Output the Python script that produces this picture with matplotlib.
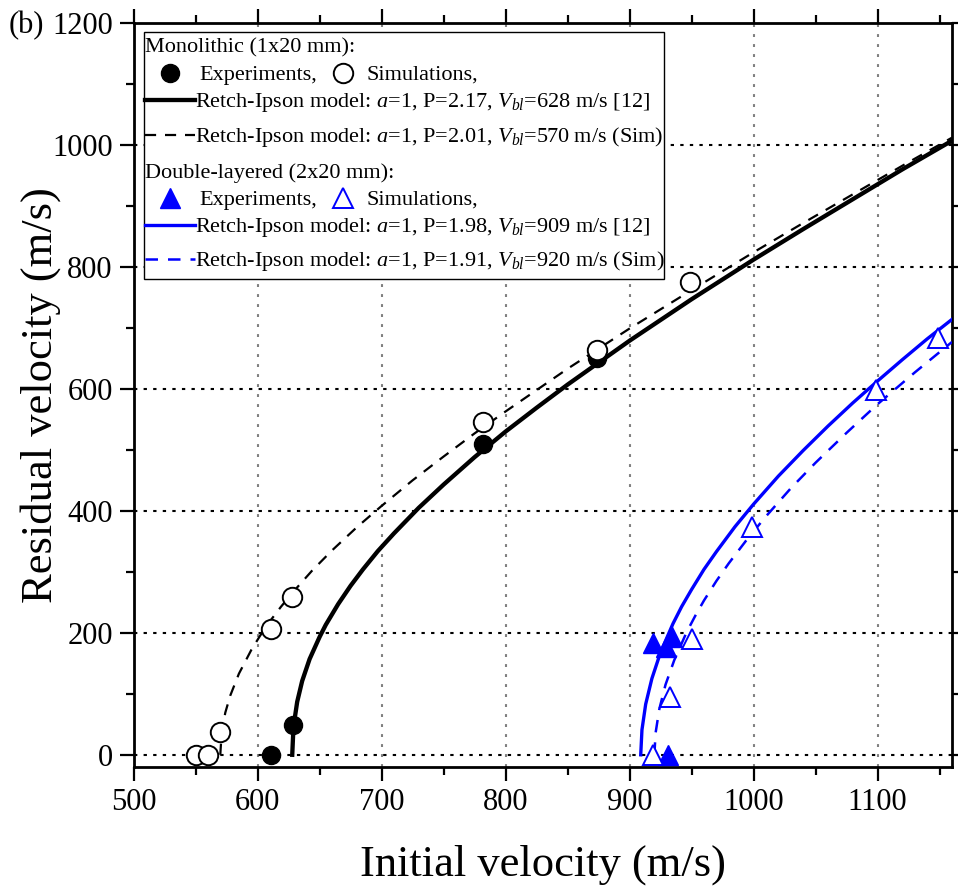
import matplotlib
matplotlib.use('Agg')
import matplotlib.pyplot as plt
from matplotlib.lines import Line2D
from matplotlib.patches import Rectangle
from matplotlib.ticker import MultipleLocator

plt.rcParams['font.family'] = ['Liberation Serif', 'DejaVu Serif']
plt.rcParams['mathtext.fontset'] = 'custom'
plt.rcParams['mathtext.rm'] = 'Liberation Serif'
plt.rcParams['mathtext.it'] = 'Liberation Serif:italic'

# Monolithic (1x20 mm)
mono_exp_vi = [611, 629, 782, 874]
mono_exp_vr = [0, 49, 510, 650]
mono_sim_vi = [550, 560, 570, 611, 628, 782, 874, 949]
mono_sim_vr = [0, 0, 38, 207, 259, 546, 663, 776]

# Double-layered (2x20 mm)
dbl_exp_vi = [919, 929, 934, 931]
dbl_exp_vr = [183, 176, 193, 0]
dbl_sim_vi = [919, 933, 950, 999, 1099, 1149]
dbl_sim_vr = [0, 94, 190, 374, 598, 683]

# Recht-Ipson curves
mono_fit_vi = [628, 629, 632, 636, 642, 650, 655, 665, 675, 685, 697, 710, 730, 750, 775,
               800, 825, 850, 900, 950, 1000, 1040, 1080, 1120, 1160]
mono_fit_vr = [0, 46, 87, 121, 157, 193, 213, 247, 277, 304, 334, 363, 405, 443, 488,
               530, 569, 607, 679, 747, 812, 862, 911, 960, 1007]
mono_simfit_vi = [570, 571, 574, 578, 585, 595, 602, 610, 619, 630, 644, 660, 680, 700, 725,
                  750, 775, 800, 850, 900, 950, 1000, 1040, 1080, 1120, 1160]
mono_simfit_vr = [0, 34, 69, 97, 133, 172, 195, 219, 243, 270, 302, 335, 373, 408, 450,
                  489, 527, 563, 633, 699, 762, 824, 872, 919, 966, 1012]
dbl_fit_vi = [909, 910, 913, 918, 925, 935, 942, 950, 960, 970, 985, 1000, 1020, 1040,
              1060, 1080, 1100, 1120, 1140, 1160]
dbl_fit_vr = [0, 41, 83, 125, 168, 215, 243, 271, 304, 333, 374, 411, 457, 499,
              539, 577, 613, 648, 682, 714]
dbl_simfit_vi = [920, 921, 924, 929, 936, 946, 953, 960, 970, 980, 995, 1010, 1030, 1050,
                 1075, 1100, 1130, 1160]
dbl_simfit_vr = [0, 36, 75, 115, 155, 201, 228, 253, 285, 314, 354, 391, 437, 479,
                 528, 575, 627, 677]

group_titles = ['Monolithic (1x20 mm):', 'Double-layered (2x20 mm):']
fit_labels = [
    r'Retch-Ipson model: $a$=1, P=2.17, $V_{bl}$=628 m/s [12]',
    r'Retch-Ipson model: $a$=1, P=2.01, $V_{bl}$=570 m/s (Sim)',
    r'Retch-Ipson model: $a$=1, P=1.98, $V_{bl}$=909 m/s [12]',
    r'Retch-Ipson model: $a$=1, P=1.91, $V_{bl}$=920 m/s (Sim)',
]

W, H = 958, 889
fig = plt.figure(figsize=(W / 100, H / 100), dpi=100)
ax = fig.add_axes([133.5 / W, (H - 767) / H, (952 - 133.5) / W, (767 - 23) / H])

blue = '#0000ff'
ax.plot(mono_fit_vi, mono_fit_vr, '-', color='black', lw=3.1, zorder=3)
ax.plot(mono_simfit_vi, mono_simfit_vr, color='black', lw=1.6, dashes=(5, 4), zorder=3)
ax.plot(dbl_fit_vi, dbl_fit_vr, '-', color=blue, lw=2.4, zorder=3)
ax.plot(dbl_simfit_vi, dbl_simfit_vr, color=blue, lw=1.8, dashes=(5, 4), zorder=3)

ax.plot(mono_exp_vi, mono_exp_vr, 'o', ms=13, color='black', zorder=4)
ax.plot(mono_sim_vi, mono_sim_vr, 'o', ms=14, mfc='white', mec='black', mew=1.4, zorder=5)
ax.plot(dbl_exp_vi, dbl_exp_vr, '^', ms=15, color=blue, zorder=4)
ax.plot(dbl_sim_vi, dbl_sim_vr, '^', ms=15, mfc='white', mec=blue, mew=1.4, zorder=5)

ax.set_xlim(500, 1160)
ax.set_ylim(-20, 1200)
ax.xaxis.set_major_locator(MultipleLocator(100))
ax.xaxis.set_minor_locator(MultipleLocator(50))
ax.yaxis.set_major_locator(MultipleLocator(200))
ax.yaxis.set_minor_locator(MultipleLocator(100))
ax.tick_params(which='both', direction='out', top=True, right=True,
               labeltop=False, labelright=False, width=1.6, labelsize=22, pad=5)
ax.tick_params(which='major', length=10)
ax.tick_params(which='minor', length=6)
for s in ax.spines.values():
    s.set_linewidth(2)

ax.set_axisbelow(True)
ax.xaxis.grid(True, color='gray', lw=1.5, linestyle=(0, (1.4, 3.4)))
ax.yaxis.grid(True, color='black', lw=1.5, linestyle=(0, (1.6, 3.0)))

ax.set_xlabel('Initial velocity (m/s)', fontsize=32, labelpad=20)
ax.set_ylabel('Residual velocity (m/s)', fontsize=32)
ax.yaxis.set_label_coords(-0.088, 0.5)

fig.text(9 / W, 1 - 33 / H, '(b)', fontsize=22, va='baseline', ha='left')

# legend, laid out by hand (pixel positions of the original)
def fx(px):
    return px / W

def fy(py):
    return 1 - py / H

fig.add_artist(Rectangle((fx(144), fy(279)), fx(664) - fx(144), fy(32) - fy(279),
                         transform=fig.transFigure, facecolor='white',
                         edgecolor='black', lw=1.0, zorder=6))

def ltext(px, py, s):
    fig.text(fx(px), fy(py + 7), s, fontsize=16, va='baseline', ha='left', zorder=7)

def lmarker(px, py, **kw):
    fig.add_artist(Line2D([fx(px)], [fy(py)], transform=fig.transFigure, zorder=7, **kw))

def lline(py, **kw):
    fig.add_artist(Line2D([fx(145), fx(195)], [fy(py), fy(py)],
                          transform=fig.transFigure, zorder=7, **kw))

rows = [[45, 73, 100, 135], [171, 198, 225, 259]]
colors = ['black', blue]
mk = ['o', '^']
solid_lw = [3.1, 2.4]
dash_lw = [1.6, 1.8]
for i in range(2):
    r = rows[i]
    ltext(145, r[0], group_titles[i])
    lmarker(170, r[1], marker=mk[i], ms=13 if i == 0 else 15, color=colors[i], ls='none')
    ltext(199, r[1], 'Experiments,')
    lmarker(343, r[1], marker=mk[i], ms=14 if i == 0 else 15, mfc='white',
            mec=colors[i], mew=1.4, ls='none')
    ltext(367, r[1], 'Simulations,')
    lline(r[2], color=colors[i], lw=solid_lw[i])
    ltext(195, r[2], fit_labels[2 * i])
    lline(r[3], color=colors[i], lw=dash_lw[i], dashes=(5, 4))
    ltext(195, r[3], fit_labels[2 * i + 1])

fig.savefig('out.png', dpi=100)
